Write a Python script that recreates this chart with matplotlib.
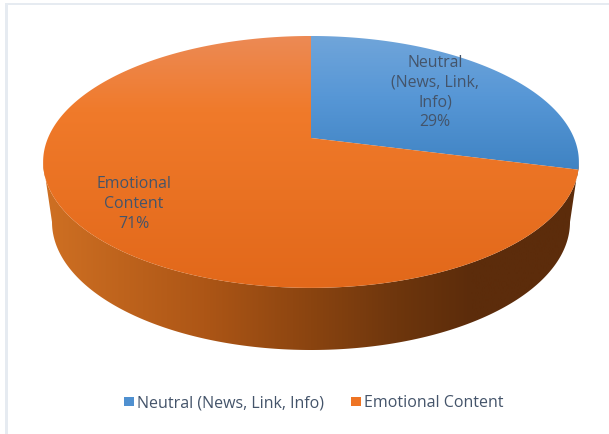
import numpy as np
import matplotlib
matplotlib.use("Agg")
import matplotlib.pyplot as plt
from matplotlib.colors import LinearSegmentedColormap
from matplotlib.patches import PathPatch, Rectangle
from matplotlib.path import Path

categories = ["Neutral (News, Link, Info)", "Emotional Content"]
label_lines = ["Neutral\n(News, Link,\nInfo)", "Emotional\nContent"]
values = [29, 71]
pct_labels = ["29%", "71%"]
legend_colors = ["#4f90d0", "#ee7424"]

W, H = 609, 434
plt.rcParams["font.family"] = ["Open Sans", "DejaVu Sans"]
fig = plt.figure(figsize=(W / 100, H / 100), dpi=100)
ax = fig.add_axes([0, 0, 1, 1])
ax.set_xlim(0, W)
ax.set_ylim(H, 0)
ax.axis("off")

CX, CY = 311, 138      # apex of the top face
A, B, K = 263.0, 121.4, 0.19   # perspective of the disc


def rim(theta):
    """theta: clockwise from 12 o'clock, radians."""
    u, v = np.sin(theta), np.cos(theta)
    d = 1 + K * v
    return CX + A * u / d, CY - B * v / d


def clipped_gradient(xs, ys, img, extent, cmap):
    verts = np.column_stack([xs, ys])
    patch = PathPatch(Path(np.vstack([verts, verts[:1]]), closed=True),
                      transform=ax.transData, fc="none", ec="none")
    ax.add_patch(patch)
    im = ax.imshow(img, extent=extent, cmap=cmap, aspect="auto", vmin=0, vmax=1,
                   interpolation="bilinear", zorder=2)
    im.set_clip_path(patch)


ax.set_autoscale_on(False)

# side wall: from the face's widest points straight down to the base outline
side_cmap = LinearSegmentedColormap.from_list("side", [
    (0.0, "#cf7023"), (0.30, "#ad5616"), (0.50, "#8a4410"),
    (0.66, "#6e360d"), (0.80, "#5c2c0b"), (1.0, "#5c2c0b")])
th = np.radians(np.linspace(101, 259, 300))
tx, ty = rim(th)
bcx, bcy, brx, bry = 311, 222, 259, 128
b_t = np.radians(np.linspace(270, 90, 300))
bx = bcx + brx * np.sin(b_t)
by = bcy - bry * np.cos(b_t)
clipped_gradient(np.r_[tx, bx], np.r_[ty, by],
                 np.linspace(0, 1, 256)[None, :], (43, 579, 434, 0), side_cmap)

# top face slices
top_maps = [
    LinearSegmentedColormap.from_list("b", [(0, "#70a5da"), (0.45, "#5797d6"), (1, "#3f83c3")]),
    LinearSegmentedColormap.from_list("o", [(0, "#ec8a55"), (0.3, "#f07a2a"), (1, "#e2681a")]),
]
ranges = [(36, 170), (36, 288)]
fractions = np.array(values, dtype=float) / sum(values)
start = 0.0
for frac, cmap, (y0, y1) in zip(fractions, top_maps, ranges):
    stop = start + frac * 2 * np.pi
    t = np.linspace(start, stop, 400)
    x, y = rim(t)
    clipped_gradient(np.r_[CX, x], np.r_[CY, y],
                     np.linspace(0, 1, 256)[:, None], (43, 579, y1, y0), cmap)
    start = stop

# data labels
TXT = "#44546a"
for label, pct, (lx, ly) in zip(label_lines, pct_labels, [(435, 92.5), (134, 204)]):
    ax.text(lx, ly, label + "\n" + pct, ha="center", va="center", color=TXT,
            fontsize=11.4, linespacing=1.3, zorder=5)

# legend
for name, col, sx, tx0 in zip(categories, legend_colors, (124, 351), (137, 364)):
    ax.add_patch(Rectangle((sx, 397), 10, 9, fc=col, ec="none", zorder=5))
    ax.text(tx0, 407, name, ha="left", va="baseline", color=TXT, fontsize=11.5, zorder=5)

# picture frame
ax.add_patch(Rectangle((5, 3), 2.5, H, fc="#e6ebf1", ec="none", zorder=1))
ax.add_patch(Rectangle((5, 3), W, 1.5, fc="#e6ebf1", ec="none", zorder=1))

fig.savefig("out.png", dpi=100)
